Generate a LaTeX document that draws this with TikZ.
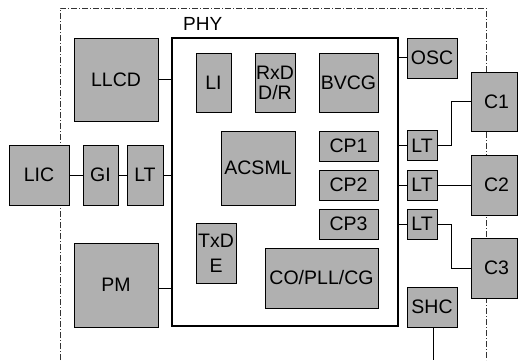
\documentclass[tikz,border=0pt]{standalone}
\usepackage{fontspec}
\setmainfont{Liberation Sans}
\begin{document}
\begin{tikzpicture}[x=1pt,y=-1pt,
  blk/.style={draw=black, line width=0.9pt, fill=black!31, inner sep=0pt,
    font=\fontsize{19.5}{20}\selectfont, align=center},
  conn/.style={draw=black, line width=0.8pt},
  bound/.style={draw=black!80, line width=0.7pt, dash pattern=on 6pt off 2pt on 1pt off 2pt}]
\useasboundingbox (0,0) rectangle (518,360);
% dashed boundary
\coordinate (tl) at (60,8);
\coordinate (tr) at (486,8);
\coordinate (bl) at (60,360);
\coordinate (br) at (486,360);
\draw[bound] (bl) -- (tl) -- (tr) -- (br);
% PHY box
\node[draw=black, line width=1.2pt, minimum width=226pt, minimum height=288pt, inner sep=0pt] (phy) at (285,182) {};
\node[font=\fontsize{19}{20}\selectfont, anchor=base west, inner sep=0pt] (phylbl) at (183,30) {PHY};
% blocks
\node[blk, minimum width=84pt, minimum height=83pt] (llcd) at (116,79.5) {LLCD};
\node[blk, minimum width=35pt, minimum height=59pt] (li) at (213.5,82.5) {LI};
\node[blk, minimum width=40pt, minimum height=59pt] (rxd) at (275,82.5) {RxD\\D/R};
\node[blk, minimum width=59pt, minimum height=59pt] (bvcg) at (348.5,82.5) {BVCG};
\node[blk, minimum width=50pt, minimum height=40pt] (osc) at (432,58) {OSC};
\node[blk, minimum width=74pt, minimum height=74pt] (acsml) at (258,168) {ACSML};
\node[blk, minimum width=59pt, minimum height=30pt] (cp1) at (348.5,146) {CP1};
\node[blk, minimum width=59pt, minimum height=30pt] (cp2) at (348.5,185) {CP2};
\node[blk, minimum width=59pt, minimum height=30pt] (cp3) at (348.5,224) {CP3};
\node[blk, minimum width=30pt, minimum height=30pt] (lt1) at (422,145.5) {LT};
\node[blk, minimum width=30pt, minimum height=30pt] (lt2) at (422,185) {LT};
\node[blk, minimum width=30pt, minimum height=30pt] (lt3) at (422,224) {LT};
\node[blk, minimum width=113pt, minimum height=60pt] (co) at (321.5,278) {CO/PLL/CG};
\node[blk, minimum width=40pt, minimum height=60pt, font=\fontsize{19.5}{25}\selectfont] (txd) at (216,253) {TxD\\E};
\node[blk, minimum width=84pt, minimum height=84pt] (pm) at (116,285) {PM};
\node[blk, minimum width=50pt, minimum height=40pt] (shc) at (432,307) {SHC};
\node[blk, minimum width=60pt, minimum height=60pt] (lic) at (39,175) {LIC};
\node[blk, minimum width=35pt, minimum height=60pt] (gi) at (100.5,175) {GI};
\node[blk, minimum width=36pt, minimum height=60pt] (ltl) at (145,175) {LT};
\node[blk, minimum width=46pt, minimum height=59pt] (c1) at (494,101.5) {\hspace*{5pt}C1};
\node[blk, minimum width=46pt, minimum height=60pt] (c2) at (494,185) {\hspace*{5pt}C2};
\node[blk, minimum width=46pt, minimum height=60pt] (c3) at (494,268) {\hspace*{5pt}C3};
% connectors
\draw[conn] (llcd.east) -- (llcd.east -| phy.west);
\draw[conn] (pm.east) ++(0,3) -- ++(14,0);
\draw[conn] (lic) -- (gi);
\draw[conn] (gi) -- (ltl);
\draw[conn] (ltl.east) -- (ltl.east -| phy.west);
\draw[conn] (osc.west) ++(0,-1) -- ++(-9,0);
\draw[conn] (lt1.west) -- (lt1.west -| phy.east);
\draw[conn] (lt2.west) -- (lt2.west -| phy.east);
\draw[conn] (lt3.west) -- (lt3.west -| phy.east);
\draw[conn] (lt1.east) -- (451,145.5) |- (c1.west);
\draw[conn] (lt2.east) -- (c2.west);
\draw[conn] (lt3.east) -- (451,224) |- (c3.west);
\coordinate (shcend) at (433,360);
\draw[conn] (shc.south -| shcend) -- (shcend);
\end{tikzpicture}
\end{document}
